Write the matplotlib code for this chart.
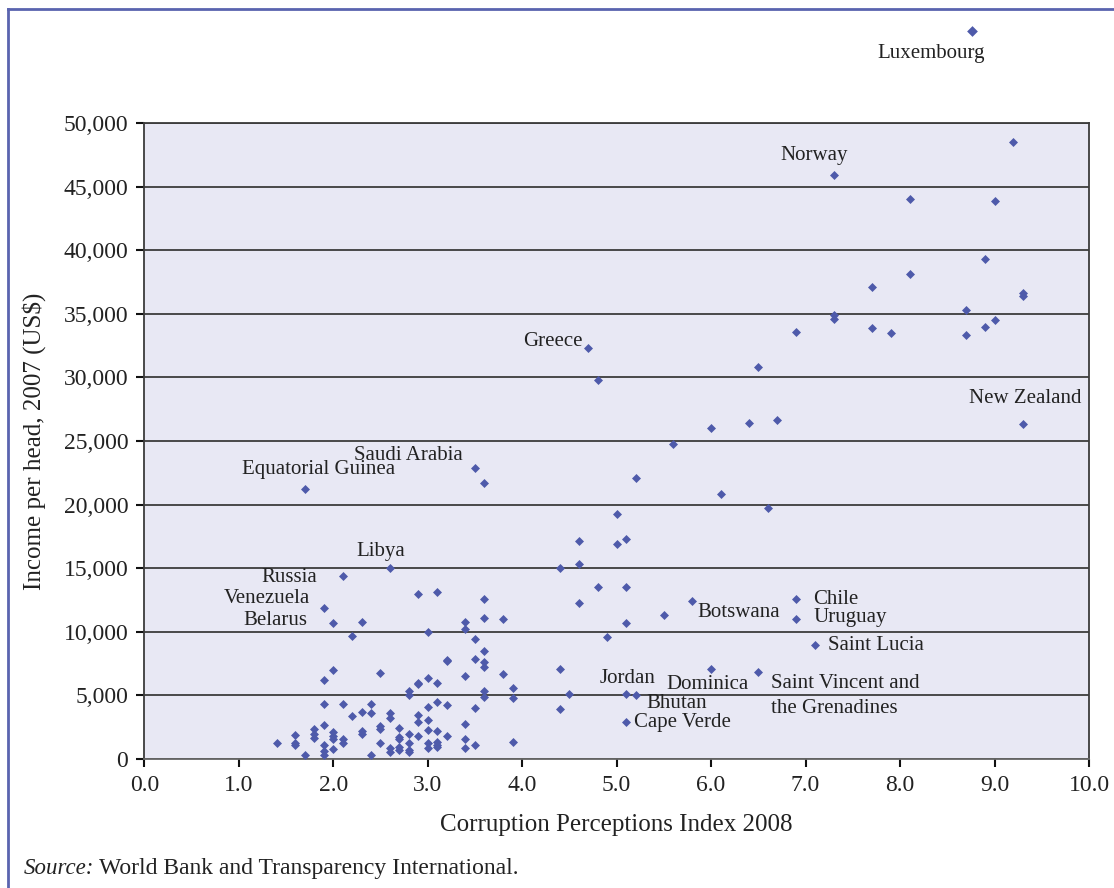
import matplotlib
matplotlib.use("Agg")
import matplotlib.pyplot as plt
from matplotlib.lines import Line2D
from matplotlib.ticker import FuncFormatter, MultipleLocator

plt.rcParams['font.family'] = ['Liberation Serif', 'DejaVu Serif']

# constants
my_dpi = 100
W, H = 1114, 888
PX = 72.0 / my_dpi  # pixels -> points

MARKER_COLOR = '#4E5AAA'
FACE_COLOR = '#E8E8F4'
GRID_COLOR = '#3C3C3C'
FRAME_COLOR = '#5A64AF'
TEXT_COLOR = '#222222'

# unlabelled countries: CPI 2008 and income per head 2007 (US$)
cpi = [
    9.2, 8.1, 9.0, 8.9, 8.1, 7.7, 9.3, 9.3, 8.7, 7.3, 7.3, 9.0, 8.9, 7.7, 7.9, 6.9, 8.7,
    6.5, 4.8, 6.7, 6.4, 6.0, 5.6, 5.2, 3.6, 6.1, 6.6, 5.0, 5.1, 4.6, 5.0, 4.6, 4.4,
    4.8, 5.1, 3.1, 2.9, 3.6, 4.6, 5.5, 3.6, 3.8, 2.3, 3.4, 5.1, 3.4, 3.0, 2.2, 4.9,
    3.5, 3.6, 3.5, 3.2, 3.2, 3.6, 3.6, 4.4, 2.0, 2.5, 3.8, 3.4, 3.0, 1.9, 3.1, 2.9,
    2.9, 3.9, 3.6, 2.8, 4.5, 2.8, 3.6, 3.9, 3.2, 3.1, 1.9, 2.1, 2.4, 3.0, 3.5, 4.4,
    2.3, 2.4, 2.6, 2.9, 2.2, 2.6, 3.0, 2.9, 1.9, 3.4, 2.5, 2.7, 1.8, 2.5, 3.0, 3.1,
    2.3, 2.0, 1.8, 2.3, 2.8, 1.6, 2.0, 3.2, 2.9, 2.7, 1.8, 2.0, 2.7, 3.4, 2.1, 3.1,
    3.9, 1.4, 1.6, 2.1, 2.5, 2.8, 3.0, 1.6, 1.9, 3.1, 3.5, 2.7, 3.0, 3.4, 2.6, 2.0,
    2.7, 2.8, 1.9, 2.6, 1.9, 1.7, 2.4, 3.1, 2.8,
]
income = [
    48500, 44000, 43900, 39300, 38100, 37100, 36600, 36400, 35300, 34900, 34600, 34500, 34000, 33900, 33500, 33600, 33300,
    30800, 29800, 26650, 26400, 26000, 24800, 22100, 21700, 20800, 19750, 19300, 17300, 17100, 16900, 15300, 15050,
    13500, 13500, 13100, 13000, 12550, 12300, 11350, 11100, 11000, 10800, 10800, 10700, 10200, 10000, 9700, 9600,
    9400, 8500, 7900, 7800, 7700, 7600, 7200, 7080, 6970, 6750, 6660, 6550, 6340, 6200, 6000, 6000,
    5900, 5580, 5350, 5350, 5100, 5030, 4900, 4800, 4250, 4460, 4350, 4350, 4350, 4100, 4030, 3900,
    3700, 3600, 3600, 3460, 3370, 3250, 3100, 2930, 2700, 2730, 2580, 2460, 2380, 2330, 2280, 2200,
    2200, 2100, 2000, 2000, 1970, 1890, 1800, 1830, 1800, 1750, 1630, 1570, 1570, 1600, 1550, 1360,
    1310, 1280, 1280, 1280, 1230, 1230, 1230, 1120, 1080, 1100, 1080, 970, 840, 840, 840, 760,
    710, 710, 640, 570, 310, 310, 310, 970, 570,
]

# labelled countries
names = ['Norway', 'Greece', 'New Zealand', 'Saudi Arabia', 'Equatorial Guinea', 'Libya',
         'Russia', 'Chile', 'Botswana', 'Venezuela', 'Uruguay', 'Belarus', 'Saint Lucia',
         'Dominica', 'Saint Vincent and\nthe Grenadines', 'Jordan', 'Bhutan', 'Cape Verde']
names_cpi = [7.3, 4.7, 9.3, 3.5, 1.7, 2.6, 2.1, 6.9, 5.8, 1.9, 6.9, 2.0, 7.1,
             6.0, 6.5, 5.1, 5.2, 5.1]
names_income = [45900, 32300, 26300, 22900, 21200, 15050, 14400, 12550, 12450, 11870, 11030, 10700, 8940,
                7100, 6870, 5080, 5000, 2900]

# off-scale point, drawn above the plot area
lux_name = 'Luxembourg'
lux_cpi = 8.76
lux_income = 57200

# label placement: (dx px, dy px up, ha) relative to the point, baseline aligned
label_pos = {
    'Norway': (-20, 15, 'center'),
    'Greece': (-6, 2, 'right'),
    'New Zealand': (2, 21, 'center'),
    'Saudi Arabia': (-12, 8, 'right'),
    'Equatorial Guinea': (14, 15, 'center'),
    'Libya': (-9, 12, 'center'),
    'Russia': (-26, -6, 'right'),
    'Chile': (17, -5, 'left'),
    'Botswana': (5, -16, 'left'),
    'Venezuela': (-14, 5, 'right'),
    'Uruguay': (17, -3, 'left'),
    'Belarus': (-26, -2, 'right'),
    'Saint Lucia': (13, -5, 'left'),
    'Dominica': (-4, -20, 'center'),
    'Saint Vincent and\nthe Grenadines': (13, -41, 'left'),
    'Jordan': (1, 11, 'center'),
    'Bhutan': (11, -13, 'left'),
    'Cape Verde': (8, -5, 'left'),
}

fig = plt.figure(figsize=(W / my_dpi, H / my_dpi), dpi=my_dpi)
ax = fig.add_axes([144.3 / W, 1 - 759 / H, (1089 - 144.3) / W, (759 - 123) / H])
ax.set_facecolor(FACE_COLOR)

ax.set_xlim(0, 10)
ax.set_ylim(0, 50000)
ax.xaxis.set_major_locator(MultipleLocator(1))
ax.yaxis.set_major_locator(MultipleLocator(5000))
ax.xaxis.set_major_formatter(FuncFormatter(lambda v, p: '{:.1f}'.format(v)))
ax.yaxis.set_major_formatter(FuncFormatter(lambda v, p: '{:,.0f}'.format(v)))
ax.tick_params(axis='both', direction='out', length=5.5, width=1.5, color='#111111',
               labelsize=17, labelcolor=TEXT_COLOR, pad=6)

ax.yaxis.grid(True, color=GRID_COLOR, linewidth=1.3)
ax.set_axisbelow(True)
for side in ['left', 'right', 'top']:
    ax.spines[side].set_color(GRID_COLOR)
    ax.spines[side].set_linewidth(1.3)
ax.spines['bottom'].set_color('#666666')
ax.spines['bottom'].set_linewidth(1.3)

ax.scatter(cpi, income, marker='D', s=21, color=MARKER_COLOR, linewidths=0, zorder=3)
ax.scatter(names_cpi, names_income, marker='D', s=21, color=MARKER_COLOR, linewidths=0, zorder=3)
ax.scatter([lux_cpi], [lux_income], marker='D', s=30, color=MARKER_COLOR, linewidths=0,
           zorder=3, clip_on=False)

for name, x, y in zip(names, names_cpi, names_income):
    dx, dy, ha = label_pos[name]
    ax.annotate(name, (x, y), xytext=(dx * PX, dy * PX), textcoords='offset points',
                ha=ha, va='baseline', fontsize=15, color=TEXT_COLOR, linespacing=1.37)
ax.annotate(lux_name, (lux_cpi, lux_income), xytext=(-41 * PX, -27 * PX), textcoords='offset points',
            ha='center', va='baseline', fontsize=15, color=TEXT_COLOR, annotation_clip=False)

ax.set_xlabel('Corruption Perceptions Index 2008', fontsize=18, color=TEXT_COLOR, labelpad=13)
ax.set_ylabel('Income per head, 2007 (US$)', fontsize=18, color=TEXT_COLOR, labelpad=13)

# source note: italic lead-in followed by plain text
src = fig.text(24 / W, 1 - 868 / H, 'Source:', fontsize=16.5, style='italic', color=TEXT_COLOR, va='center')
fig.canvas.draw()
src_end = src.get_window_extent().x1
fig.text((src_end + 5) / W, 1 - 868 / H, 'World Bank and Transparency International.', fontsize=17,
         color=TEXT_COLOR, va='center')

# frame around the figure (left and top edges only are visible)
fig.add_artist(Line2D([8 / W, 8 / W], [0, 1 - 9.5 / H], color=FRAME_COLOR, linewidth=2,
                      transform=fig.transFigure))
fig.add_artist(Line2D([8 / W, 1], [1 - 9.5 / H, 1 - 9.5 / H], color=FRAME_COLOR, linewidth=2,
                      transform=fig.transFigure))

fig.savefig('out.png', dpi=my_dpi)
